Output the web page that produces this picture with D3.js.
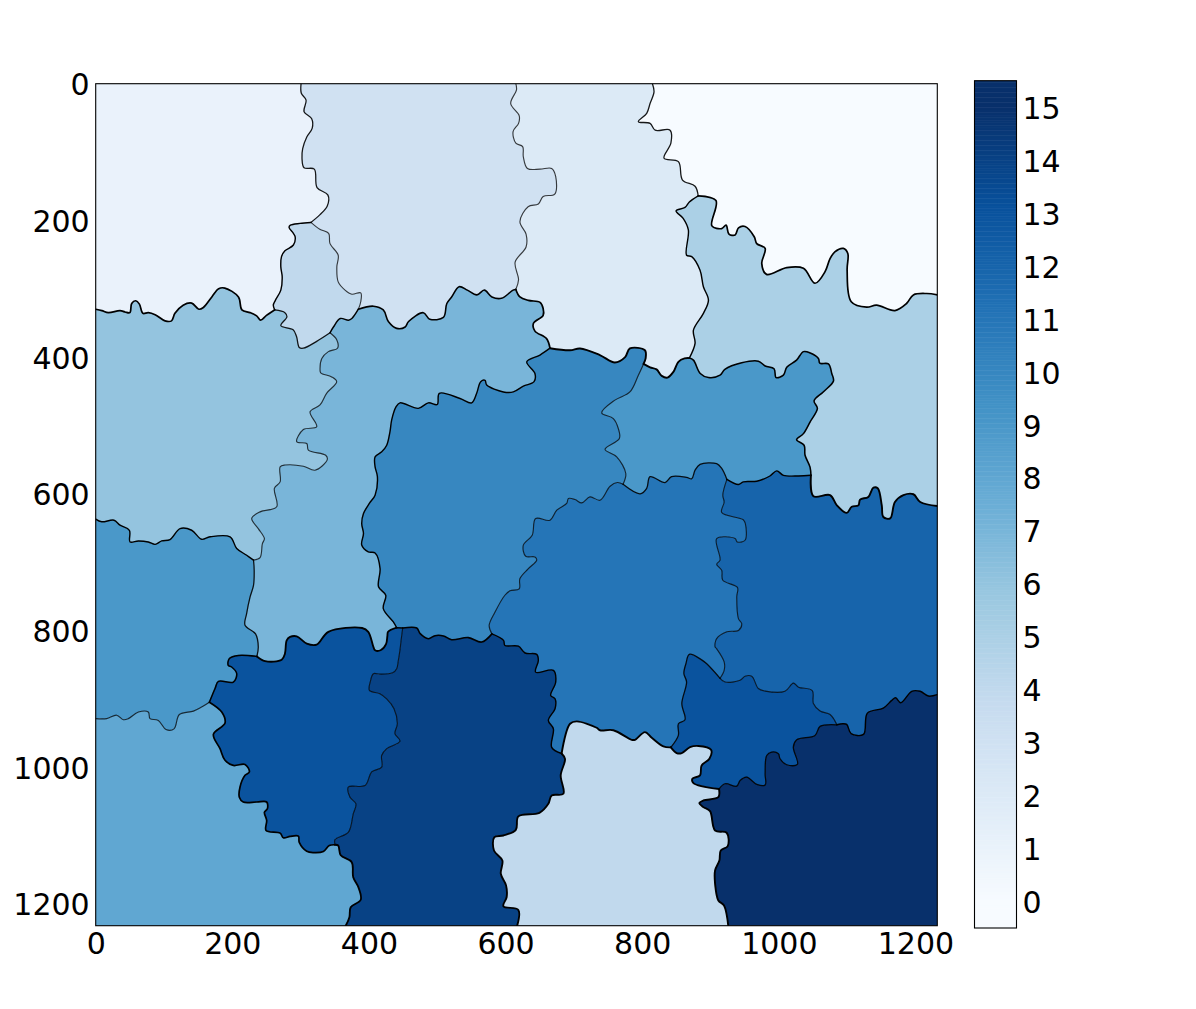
<!DOCTYPE html>
<html>
<head>
<meta charset="utf-8">
<script src="https://cdn.jsdelivr.net/npm/d3@7/dist/d3.min.js"></script>
<style>
html,body{margin:0;padding:0;background:#fff;overflow:hidden}
svg{display:block}
text{font-family:"DejaVu Sans",sans-serif;fill:#000}
</style>
</head>
<body>
<div id="chart"></div>
<script>
const imageExtent = [0, 1232];
const axisTicks = [0, 200, 400, 600, 800, 1000, 1200];
const colorbarTicks = d3.range(0, 16);
const colorbarDomain = [-0.5, 15.5];
const bluesStops = ["#f7fbff","#deebf7","#c6dbef","#9ecae1","#6baed6","#4292c6","#2171b5","#08519c","#08306b"];

const e_1_3 = [[300.6,0],[301,14],[308,24],[305,41],[316,51],[317,65],[309,78],[303,95],[302,109],[305,123],[320,125],[324,152],[340,163],[339,179],[328,192],[315,203]];
const e_1_4 = [[315,203],[299,204.4],[285,207],[283,210],[289.4,219],[292,224],[289.4,236],[277,244.5],[272,253],[271,268],[273,282.5],[271,302],[263,317],[260,324],[262,331]];
const e_1_6 = [[0,330],[9,332],[18.5,335],[35.6,332],[43,334],[50,335],[52.7,321.6],[58.6,317.6],[64,322.5],[69,336],[77,335],[87,338],[101.5,347],[111,347],[116,336],[128,324],[140.5,321],[151,330],[157.6,327.4],[170,312],[180,300],[189,299],[209,312],[214,331],[226,335],[236,340],[241.5,346],[250,339],[262,331]];
const e_4_6 = [[262,331],[277,335],[280,341],[271,354],[289,360],[294,370],[298,386],[304,387],[323.5,377],[343,364.5]];
const e_4_7 = [[343,364.5],[348,356],[358,343.5],[370,346],[375,343.5],[384.5,330]];
const e_3_4 = [[315,203],[328,213],[341,219],[343,234],[355,251],[353,268],[355,290],[365,302],[375,308],[388,306],[388,319],[384.5,330]];
const e_3_7 = [[384.5,330],[406.5,325.5],[421,331],[428.4,348],[440.6,358],[453,356],[458,348],[479.6,335],[489,344.5],[509,342],[514,321.6],[521,312],[532,297],[544,302],[558,309],[569,302],[580,312],[594,314],[611,302],[615,301]];
const e_2_3 = [[615,0],[616,9],[607.5,29],[620,47],[619,58],[611,70],[615,87],[625,92],[626,107],[632,124],[650.5,125],[667.5,124],[673.4,136],[672,161.5],[655,165],[648,176],[633,180],[621,202],[630,220],[630,239],[614,261],[619,287],[615,301]];
const e_2_7 = [[615,301],[621,312],[633.4,317],[650.5,320],[655,329],[655,339],[640.7,351],[643,362],[660,373],[665,387]];
const e_2_10 = [[665,387],[694.4,390],[709,387.4],[738,397],[760,408],[775,400],[782,387.4],[804,390],[805,402],[802,410]];
const e_2_9 = [[802,410],[811.5,415],[821,418],[828.6,427.5],[837,430],[845.7,421.6],[853,407],[862,402],[869,401.5]];
const e_5_9 = [[869,401.5],[875,404.5],[885,424],[897,430],[914,426.5],[921,418],[945.7,408.4],[970,406],[980,413],[993,417],[996,430],[1006.7,426.5],[1011.6,415],[1026,404.5],[1036,392],[1046,394],[1058,402],[1060,409],[1072.6,410],[1077.5,424],[1080,435],[1065,451],[1051.6,464],[1056.5,475],[1045.7,495],[1036,512],[1026,521],[1037,529],[1038.4,543.6],[1045.7,561],[1047,573]];
const e_2_5 = [[869,401.5],[877.4,380],[875,360.6],[889.6,336],[897,316.7],[889.6,297],[884.7,273],[872.5,253],[865,251],[867.6,214],[860,197],[849.6,186],[862.7,181],[869,173],[882,164]];
const e_0_2 = [[815,0],[817.3,12],[811.5,29],[806.6,43.4],[794.4,55.6],[811.5,58],[819,68],[840.8,68],[842,87],[832,109],[853,114],[859,141],[877.4,150],[882,164]];
const e_0_5 = [[882,164],[908,171],[902,208],[916.4,212],[922.8,207],[927,220],[936,221.5],[941,211],[950.6,209],[964,224],[967.7,234],[980,241],[975,263],[982,279],[1011.6,269],[1036,270],[1053,292],[1067.7,275],[1075,256],[1082,246],[1094.5,241],[1101,248.4],[1100,273],[1106,319],[1128.7,327],[1143,324],[1170,332],[1187,321.6],[1197,309],[1216.5,307],[1232,309]];
const e_5_12 = [[1047,573],[1050.6,603.6],[1075,602],[1085,617],[1099.4,628],[1106.7,619],[1116.5,617],[1119,608.5],[1131,604.6],[1138.5,591],[1144.8,592],[1150.7,617],[1153,634],[1163,636],[1170,612],[1182.4,602],[1197,600.7],[1207,612],[1232,618]];
const e_9_12 = [[924,579],[940.8,586.5],[948,582.6],[967.7,581.6],[987,574],[997,566.5],[1006.7,573],[1028.7,574],[1047,573]];
const e_9_11 = [[772,586],[797,600],[806.6,592],[811.5,575],[833.5,583.6],[843,575],[865,576],[872.5,578],[877.4,565.5],[884.7,557],[909,556],[916.4,563],[924,579]];
const e_9_10 = [[772,586],[776,570.4],[762.7,546],[745.6,535],[766.6,519],[765,504.5],[757.8,490],[740.7,481.6],[760,463],[782,451],[794.4,426.5],[802,410]];
const e_7_10 = [[665,387],[650.4,397],[631,407],[643,424],[641.7,436],[626,442.6],[611.4,451],[596.8,451],[572.4,441],[570,434],[563.6,436],[557.7,453],[550.4,467],[533.3,460.6],[503,453],[500,469.4],[487,467],[472.3,475],[445.5,467],[439.6,473],[433.3,492],[430.8,509],[426,529],[418.7,538.7],[409,546],[409,560.7],[412.4,575],[409,602],[400.6,614],[392,629],[389.4,643.6],[392,658],[389.4,675],[399,685],[409,686.6],[416.3,709.5],[414,736],[424.6,748.5],[421,768],[435.7,787.6],[440.6,796]];
const e_10_13 = [[440.6,796],[449.4,796.4]];
const e_10_14 = [[449.4,796.4],[470,796.4],[475,804.7],[487,812],[496.7,807.6],[509,808],[521,813.5],[545.5,810.5],[565,817],[580,805]];
const e_10_11 = [[580,805],[576,792.5],[584.6,773],[599,748.5],[606.5,742],[620,739],[621,724],[633.4,709.5],[645.6,697],[643,692.4],[629.5,691.4],[626,675.3],[639,660.7],[644,636.3],[665,638.7],[675,624],[689.5,614],[692,607],[701.7,608.5],[711.4,613.4],[723.6,604.6],[738.3,609.5],[753,589],[763.7,583.6],[772,586]];
const e_11_12 = [[924,579],[918,602],[920,612],[916.4,627.5],[948,638],[951,643.6],[950.6,668],[939,670.5],[936,665.6],[909,665.6],[914,697],[909,703],[916.4,712],[918,726.6],[939.4,737],[938.4,751],[941,783],[945.7,790],[941,800],[924,802],[909,812],[906.7,824],[909,826.7],[920,846],[920,858.4],[914,870]];
const e_11_13 = [[914,870],[894.5,848.7],[887,843],[869,835],[864,848.7],[861,863],[865,875.5],[858,907],[862.7,930.6],[853,936.5],[853,953.6],[842,971]];
const e_4_11 = [[682,980],[694.4,936.5],[704,933],[733.4,942.4],[738.3,946],[757.8,946],[784.6,960],[789.5,960],[804,948.7],[814,957],[831,969.7],[842,971]];
const e_11_14 = [[580,805],[597,814.5],[599,822],[618.7,823],[628.5,833],[645.6,835],[648,844],[644,861],[670,858.4],[673.4,875.5],[666,895],[672.4,900],[672.4,914.5],[662.6,931.6],[670,944],[667.5,971],[682,980]];
const e_4_14 = [[682,980],[687,988],[680.7,1012],[684.6,1039],[667.5,1041.4],[662.6,1053.6],[649.5,1066.8],[618.7,1072],[615,1091.7],[596.8,1100],[583.6,1102.4],[583,1122],[595.3,1136.6],[593,1156],[600.7,1173],[601.6,1190],[596.8,1203.5],[618.7,1209],[617,1232]];
const e_8_14 = [[350.4,1113.6],[355,1114.6],[358.7,1129],[374.8,1139],[377,1161],[384.5,1175.6],[388,1194],[373.3,1205],[371.4,1219.5],[366,1232]];
const e_13_14 = [[449.4,796.4],[447,815],[445.5,828],[443,844],[440.6,856],[434.7,862],[416,864],[406.5,863.3],[402,875],[400.7,887.7],[416,892.6],[426,900],[436.7,914.5],[441.6,936.5],[438,951],[445.5,962],[426,973],[418.6,983],[418.7,1000],[404,1007],[394.3,1027],[370,1029],[372.3,1044],[381,1053.6],[377,1068.3],[370,1095],[350.4,1106],[350.4,1113.6]];
const e_8_13 = [[350.4,1113.6],[342,1114.6],[333.3,1123.4],[318.7,1125],[309,1123],[298,1110],[296.7,1101],[284.5,1101.4],[274.7,1103.4],[270,1096.6],[249.4,1092.7],[250.3,1078],[247,1066],[251.3,1061],[250.3,1051],[235.7,1051],[216,1051],[210.3,1044],[211.3,1029],[218.6,1012],[225,1007],[218.6,996],[201.5,997.5],[189.3,990],[182,973],[172.3,952],[189.3,935.5],[184.5,919.4],[166.4,905]];
const e_8_9 = [[0,929],[16,929],[30.7,924],[40.5,930.6],[47.8,929],[62.5,919.4],[77,919.4],[79.5,929],[91.7,931.6],[103,945],[114.7,944],[122.5,923],[143,918],[155,912],[166.4,905]];
const e_9_13 = [[166.4,905],[174.7,885],[179.6,874.5],[201.5,875.5],[206.4,863],[199,853.5],[194,851],[195.7,841],[208.9,836.5],[236,838]];
const e_7_9 = [[236,838],[238,824],[234,805],[218.6,792.5],[221,775],[226,751],[231,734],[232,712],[231,697]];
const e_6_9 = [[0,637],[8.8,641],[26.8,638.7],[35.6,646],[49.3,653.4],[50.3,670.5],[62.5,669],[77,670.5],[87,674],[96.6,669],[108.8,667],[123.5,651],[140.5,653.4],[155,666.6],[167.4,663],[196.7,663],[206.4,680],[221,690],[231,697]];
const e_6_7 = [[231,697],[240.6,693.4],[244,673],[247,665.6],[238,651],[228.4,636],[240.6,626.5],[265,619],[261.6,592],[270,582.6],[270,560.7],[277,558],[304,559.7],[321,565.5],[339,550],[336.7,543.6],[311.3,536],[309,526.5],[294.3,524],[304,506],[323.5,502],[313.8,480],[328.4,470],[338,453],[352.8,436],[345.5,429],[329.4,423],[328.4,418],[331,402],[340.6,392],[354,387],[353,375],[343,364.5]];
const e_7_13 = [[236,838],[248,845],[272.3,843],[277,834],[279.6,814.4],[284.5,809.5],[294.3,808.6],[309,819.3],[323.5,820.8],[340.6,802],[390,796.4],[399,802],[406.5,824],[409,829],[417,829],[425,820],[427,808],[428,802],[440.6,796]];
const e_12_13 = [[914,870],[921.3,875.5],[943.3,873],[950.6,867],[960.3,867],[970,885],[980,888.7],[1009,889],[1021.3,877],[1028.7,883],[1049,888],[1050.6,907],[1060.4,918],[1075,923],[1085,938]];
const e_12_15 = [[1085,938],[1093.6,936.5],[1099.4,937.5],[1105.8,951],[1124,952],[1129.7,921],[1153,913.6],[1165.3,902.3],[1171,898.4],[1178.5,905.8],[1194.6,889],[1206.8,889],[1219,896],[1232,894]];
const e_13_15 = [[1085,938],[1060.4,940.4],[1053,953.6],[1026.2,960],[1021.3,970.7],[1027.2,996],[1011.6,996.5],[1001.8,987.7],[999.4,980.4],[989.6,978],[982.3,983],[980,1009.7],[980,1026],[967.7,1025.3],[953,1014.6],[943.3,1019.5],[938.4,1027.8],[921.3,1024.3],[912.5,1032]];
const e_4_13 = [[842,971],[850.5,979.4],[857.9,979.4],[870,970.7],[882.3,969],[900.8,974.6],[898.4,987.7],[887,997.5],[884.7,1012],[873.5,1017],[875,1023.4],[912.5,1032]];
const e_4_15 = [[912.5,1032],[911.5,1044],[889.6,1048.7],[883.7,1052.6],[889.6,1058.5],[899.3,1064.4],[906.7,1092.7],[923.7,1096],[925.2,1115.6],[915,1122],[913,1136.6],[906.7,1151],[906.7,1170.7],[911.5,1195],[919.8,1202.5],[926,1232]];

const r = a => a.slice().reverse();
const regions = [
  [1, [[[0,0]], e_1_3, e_1_4, r(e_1_6)]],
  [0, [e_0_2, e_0_5, [[1232,0]]]],
  [2, [e_2_3, e_2_7, e_2_10, e_2_9, e_2_5, r(e_0_2)]],
  [3, [e_1_3, e_3_4, e_3_7, r(e_2_3)]],
  [4, [e_1_4, e_4_6, e_4_7, r(e_3_4)]],
  [5, [e_0_5, r(e_5_12), r(e_5_9), e_2_5]],
  [6, [e_1_6, e_4_6, r(e_6_7), r(e_6_9)]],
  [7, [e_4_7, e_3_7, e_2_7, e_7_10, r(e_7_13), e_7_9, e_6_7]],
  [8, [e_8_9, r(e_8_13), e_8_14, [[0,1232]]]],
  [9, [e_6_9, r(e_7_9), r(e_9_13), r(e_8_9)]],
  [9, [r(e_2_9), r(e_9_10), e_9_11, e_9_12, r(e_5_9)]],
  [10, [e_2_10, r(e_9_10), r(e_10_11), r(e_10_14), r(e_10_13), r(e_7_10)]],
  [11, [e_10_11, e_9_11, e_11_12, e_11_13, r(e_4_11), r(e_11_14)]],
  [12, [e_9_12, e_5_12, r(e_12_15), r(e_12_13), r(e_11_12)]],
  [13, [e_7_13, e_10_13, e_13_14, e_8_13, e_9_13]],
  [13, [e_12_13, e_13_15, r(e_4_13), r(e_11_13)]],
  [14, [e_10_14, e_11_14, e_4_14, r(e_8_14), r(e_13_14)]],
  [4, [e_4_11, e_4_13, e_4_15, r(e_4_14)]],
  [15, [e_12_15, [[1232,1232]], r(e_4_15), r(e_13_15)]]
];
const boundaries = [
  [e_1_3,1,3],[e_1_4,1,4],[e_1_6,1,6],[e_4_6,4,6],[e_4_7,4,7],[e_3_4,3,4],[e_3_7,3,7],[e_2_3,2,3],[e_2_7,2,7],
  [e_2_10,2,10],[e_2_9,2,9],[e_5_9,5,9],[e_2_5,2,5],[e_0_2,0,2],[e_0_5,0,5],[e_5_12,5,12],[e_9_12,9,12],[e_9_11,9,11],
  [e_9_10,9,10],[e_7_10,7,10],[e_10_13,10,13],[e_10_14,10,14],[e_10_11,10,11],[e_11_12,11,12],[e_11_13,11,13],[e_4_11,4,11],
  [e_11_14,11,14],[e_4_14,4,14],[e_8_14,8,14],[e_13_14,13,14],[e_8_13,8,13],[e_8_9,8,9],[e_9_13,9,13],[e_7_9,7,9],[e_6_9,6,9],
  [e_6_7,6,7],[e_7_13,7,13],[e_12_13,12,13],[e_12_15,12,15],[e_13_15,13,15],[e_4_13,4,13],[e_4_15,4,15]
];

const W = 1196, H = 1009;
const frame = {left:95.7, top:83.7, right:937.3, bottom:925.7};
const cb = {left:974.5, right:1016.5, top:80.7, bottom:928};

const svg = d3.select("#chart").append("svg").attr("width",W).attr("height",H);
svg.append("rect").attr("width",W).attr("height",H).attr("fill","#fff");
svg.append("clipPath").attr("id","plot-clip").append("rect")
  .attr("x",frame.left).attr("y",frame.top).attr("width",frame.right-frame.left).attr("height",frame.bottom-frame.top);

const x = d3.scaleLinear().domain(imageExtent).range([frame.left, frame.right]);
const y = d3.scaleLinear().domain(imageExtent).range([frame.top, frame.bottom]);
const color = d3.scaleLinear()
  .domain(bluesStops.map((_,i)=>i*15/8))
  .range(bluesStops).clamp(true);
const line = d3.line().x(d=>x(d[0])).y(d=>y(d[1])).curve(d3.curveCatmullRom.alpha(0.5));
const regionPath = pieces => pieces.map(p =>
    p.length === 1 ? `L${x(p[0][0])},${y(p[0][1])}` : line(p).replace(/^M/,"L")
  ).join("").replace(/^L/,"M") + "Z";

const plot = svg.append("g").attr("clip-path","url(#plot-clip)");
plot.append("g").selectAll("path").data(regions).join("path")
  .attr("d", d => regionPath(d[1]))
  .attr("fill", d => color(d[0]))
  .attr("stroke", d => color(d[0]))
  .attr("stroke-width", 0.4);

plot.append("g").attr("fill","none").attr("stroke","#000").attr("stroke-linejoin","round").attr("stroke-linecap","round")
  .selectAll("path").data(boundaries).join("path")
  .attr("d", d => line(d[0]))
  .attr("stroke-width", d => Math.min(1.9, 1.0+0.14*Math.abs(d[1]-d[2])))
  .attr("stroke-opacity", d => Math.min(1, 0.6+0.15*Math.abs(d[1]-d[2])));

svg.append("rect").attr("x",frame.left).attr("y",frame.top)
  .attr("width",frame.right-frame.left).attr("height",frame.bottom-frame.top)
  .attr("fill","none").attr("stroke","#000").attr("stroke-width",1.1);

const fs = 30;
const xAxis = d3.axisBottom(x).tickValues(axisTicks).tickSize(0).tickPadding(7).tickFormat(d3.format("d"));
const yAxis = d3.axisLeft(y).tickValues(axisTicks).tickSize(0).tickPadding(6).tickFormat(d3.format("d"));
const gx = svg.append("g").attr("transform",`translate(0,${frame.bottom})`).call(xAxis);
const gy = svg.append("g").attr("transform",`translate(${frame.left},1.5)`).call(yAxis);
[gx,gy].forEach(g=>{g.select(".domain").remove();
  g.selectAll("text").style("font-size",fs+"px").style("font-family",'"DejaVu Sans"');});

const cbY = d3.scaleLinear().domain(colorbarDomain).range([cb.bottom, cb.top]);
const cbSteps = d3.range(colorbarDomain[0], colorbarDomain[1], 0.03125);
svg.append("g").selectAll("rect").data(cbSteps).join("rect")
  .attr("x",cb.left).attr("width",cb.right-cb.left)
  .attr("y",d=>cbY(d+0.03125)).attr("height",d=>cbY(d)-cbY(d+0.03125)+0.5)
  .attr("fill",d=>color(d+0.015625));
svg.append("rect").attr("x",cb.left).attr("y",cb.top).attr("width",cb.right-cb.left).attr("height",cb.bottom-cb.top)
  .attr("fill","none").attr("stroke","#000").attr("stroke-width",1.1);
const cbAxis = d3.axisRight(cbY).tickValues(colorbarTicks).tickSize(0).tickPadding(6).tickFormat(d3.format("d"));
const gc = svg.append("g").attr("transform",`translate(${cb.right},1.5)`).call(cbAxis);
gc.select(".domain").remove();
gc.selectAll("text").style("font-size",fs+"px").style("font-family",'"DejaVu Sans"');
</script>
</body>
</html>
